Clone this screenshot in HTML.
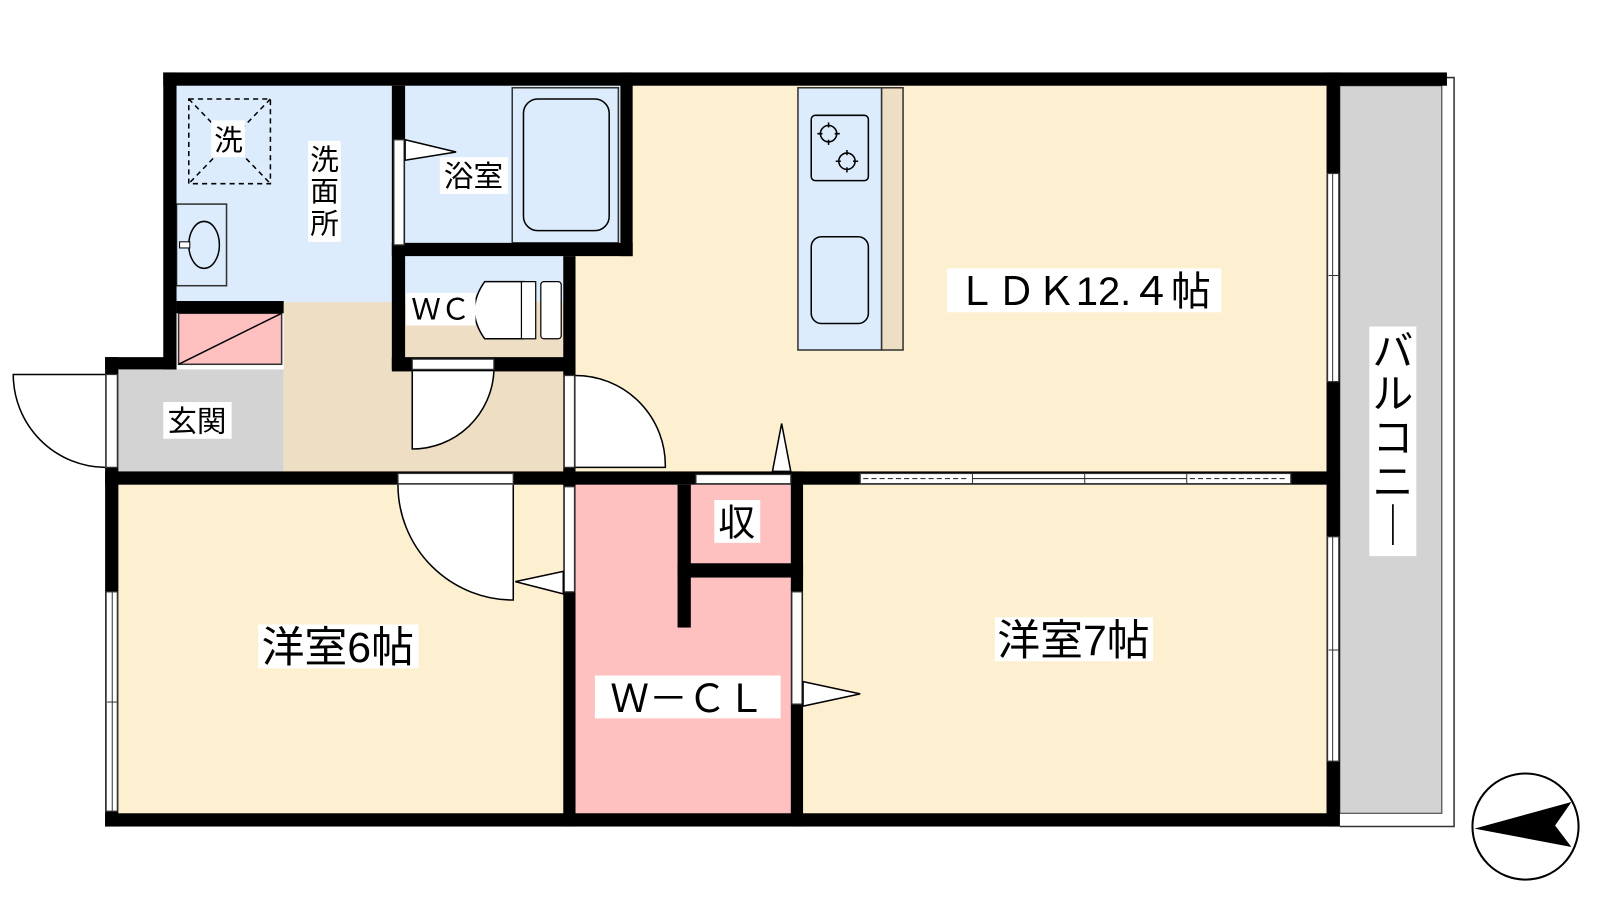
<!DOCTYPE html>
<html><head><meta charset="utf-8"><style>
html,body{margin:0;padding:0;background:#fff;width:1600px;height:900px;overflow:hidden}
svg{display:block}
text{font-family:"Liberation Sans","Noto Sans CJK JP",sans-serif;fill:#000}
</style></head><body>
<svg width="1600" height="900" viewBox="0 0 1568 882" xmlns="http://www.w3.org/2000/svg">
<rect x="552" y="84" width="750" height="380" fill="#fdf0d0"/>
<rect x="173" y="84" width="212" height="214" fill="#dcecfc"/>
<rect x="397" y="84" width="212" height="156" fill="#dcecfc"/>
<rect x="397" y="251" width="157" height="101" fill="#dcecfc"/>
<rect x="278" y="296" width="276" height="168" fill="#eedec4"/>
<rect x="116" y="362" width="162" height="102" fill="#d3d3d3"/>
<rect x="116" y="475" width="438" height="324" fill="#fdf0d0"/>
<rect x="564" y="475" width="213" height="324" fill="#ffc0c0"/>
<rect x="787" y="475" width="515" height="324" fill="#fdf0d0"/>
<rect x="1313" y="84" width="100" height="713" fill="#d3d3d3" stroke="#333" stroke-width="1"/>
<polyline points="1413,76 1425,76 1425,810 1313,810" fill="none" stroke="#333" stroke-width="1.5"/>

<rect x="185" y="97" width="80" height="83" fill="none" stroke="#000" stroke-width="1.5" stroke-dasharray="5,4"/>
<line x1="185" y1="97" x2="265" y2="180" stroke="#000" stroke-width="1.5" stroke-dasharray="5,4"/>
<line x1="265" y1="97" x2="185" y2="180" stroke="#000" stroke-width="1.5" stroke-dasharray="5,4"/>
<rect x="173" y="200" width="49" height="80" fill="#dcecfc" stroke="#333" stroke-width="1.5"/>
<ellipse cx="200" cy="240" rx="15" ry="23" fill="none" stroke="#000" stroke-width="1.5"/>
<rect x="176" y="237" width="10" height="6" fill="#fff" stroke="#000" stroke-width="1"/>
<rect x="502" y="86" width="104" height="152" fill="#dcecfc" stroke="#333" stroke-width="1.5"/>
<rect x="513" y="97" width="84" height="129" rx="14" fill="none" stroke="#000" stroke-width="1.5"/>
<path d="M514,276 L475,276 Q455,304 475,332 L514,332" fill="#fff" stroke="#000" stroke-width="1.5"/>
<rect x="511" y="276" width="14" height="56" fill="#fff" stroke="#000" stroke-width="1.2"/>
<rect x="530" y="276" width="20" height="56" rx="3" fill="#fff" stroke="#000" stroke-width="1.2"/>
<rect x="175" y="307" width="101" height="50" fill="#ffc0c0" stroke="#333" stroke-width="1.5"/>
<line x1="175" y1="357" x2="276" y2="307" stroke="#000" stroke-width="1.5"/>
<rect x="782" y="86" width="82" height="257" fill="#dcecfc" stroke="#333" stroke-width="1.5"/>
<rect x="864" y="86" width="21" height="257" fill="#eedec4" stroke="#333" stroke-width="1.5"/>
<rect x="795" y="113" width="56" height="64" rx="4" fill="none" stroke="#000" stroke-width="1.5"/>
<circle cx="812" cy="131" r="8" fill="none" stroke="#000" stroke-width="1.5"/>
<circle cx="830" cy="158" r="8" fill="none" stroke="#000" stroke-width="1.5"/>
<g stroke="#000" stroke-width="1.5">
<line x1="812" y1="120" x2="812" y2="142"/><line x1="801" y1="131" x2="823" y2="131"/>
<line x1="830" y1="147" x2="830" y2="169"/><line x1="819" y1="158" x2="841" y2="158"/>
</g>
<circle cx="812" cy="131" r="6" fill="#dcecfc"/>
<circle cx="830" cy="158" r="6" fill="#dcecfc"/>
<rect x="795" y="232" width="56" height="85" rx="10" fill="none" stroke="#000" stroke-width="1.5"/>

<g fill="#000">
<rect x="160" y="71" width="1258" height="13"/>
<rect x="160" y="71" width="13" height="291"/>
<rect x="103" y="350" width="70" height="12"/>
<rect x="103" y="350" width="13" height="460"/>
<rect x="103" y="797" width="1210" height="13"/>
<rect x="1300" y="71" width="13" height="739"/>
<rect x="384" y="84" width="13" height="278"/>
<rect x="608" y="71" width="12" height="180"/>
<rect x="384" y="238" width="236" height="13"/>
<rect x="552" y="251" width="12" height="559"/>
<rect x="384" y="350" width="180" height="14"/>
<rect x="173" y="295" width="105" height="12"/>
<rect x="103" y="462" width="1210" height="13"/>
<rect x="775" y="462" width="12" height="348"/>
<rect x="664" y="475" width="13" height="140"/>
<rect x="664" y="552" width="123" height="14"/>
</g>

<g fill="#fff" stroke="#333" stroke-width="1.2">
<rect x="386" y="137" width="10" height="103"/>
<rect x="404" y="352" width="80" height="10"/>
<rect x="104" y="367" width="11" height="91"/>
<rect x="553" y="368" width="10" height="90"/>
<rect x="390" y="464" width="113" height="10"/>
<rect x="682" y="465" width="93" height="9"/>
<rect x="843" y="464" width="422" height="10"/>
<rect x="553" y="477" width="10" height="103"/>
<rect x="776" y="580" width="10" height="110"/>
<rect x="104" y="580" width="11" height="215"/>
<rect x="1301" y="170" width="11" height="204"/>
<rect x="1301" y="526" width="11" height="220"/>
</g>
<g stroke="#333" stroke-width="1">
<line x1="110" y1="580" x2="110" y2="795"/><line x1="105" y1="688" x2="115" y2="688"/>
<line x1="1306" y1="170" x2="1306" y2="374"/><line x1="1302" y1="270" x2="1312" y2="270"/>
<line x1="1306" y1="526" x2="1306" y2="746"/><line x1="1302" y1="637" x2="1312" y2="637"/>
<line x1="953" y1="464" x2="953" y2="474"/><line x1="1063" y1="464" x2="1063" y2="474"/><line x1="1163" y1="464" x2="1163" y2="474"/>
<line x1="953" y1="469" x2="1163" y2="469"/>
<line x1="846" y1="469" x2="950" y2="469" stroke-dasharray="5,3"/>
<line x1="1166" y1="469" x2="1262" y2="469" stroke-dasharray="5,3"/>
</g>

<g fill="#fff" stroke="#000" stroke-width="1.5">
<path d="M103,367 L13,367 A91,91 0 0 0 103,458"/>
<path d="M404,364 L404,440 A80,80 0 0 0 484,364 Z" stroke="none"/>
<path d="M404,364 L404,440 A80,80 0 0 0 484,364" fill="none"/>
<path d="M564,368 A88,88 0 0 1 652,458 L564,458" />
<path d="M503,475 L503,588 A113,113 0 0 1 390,475" />
<polygon points="397,137 447,149 397,157"/>
<polygon points="757,462 766,415 775,462"/>
<polygon points="552,560 505,570 552,582"/>
<polygon points="787,668 843,680 787,692"/>
</g>

<g fill="#fff">
<rect x="207" y="118" width="33" height="36"/>
<rect x="302" y="138" width="32" height="99"/>
<rect x="431" y="154" width="67" height="36"/>
<rect x="398" y="287" width="68" height="32"/>
<rect x="160" y="394" width="67" height="36"/>
<rect x="928" y="263" width="269" height="43"/>
<rect x="1342" y="320" width="46" height="225"/>
<rect x="253" y="612" width="157" height="43"/>
<rect x="700" y="490" width="45" height="42"/>
<rect x="583" y="662" width="182" height="42"/>
<rect x="975" y="605" width="155" height="43"/>
</g>
<text x="224" y="147" font-size="28" text-anchor="middle">洗</text>
<text x="318" y="166" font-size="28" text-anchor="middle">洗</text>
<text x="318" y="197" font-size="28" text-anchor="middle">面</text>
<text x="318" y="229" font-size="28" text-anchor="middle">所</text>
<text x="464" y="183" font-size="29" text-anchor="middle">浴室</text>
<text x="432" y="313" font-size="29" text-anchor="middle">ＷＣ</text>
<text x="193" y="423" font-size="29" text-anchor="middle">玄関</text>
<text x="1062" y="299" font-size="39" text-anchor="middle">ＬＤＫ12.４帖</text>
<text x="331" y="649" font-size="42" text-anchor="middle">洋室6帖</text>
<text x="1052" y="642" font-size="42" text-anchor="middle">洋室7帖</text>
<text x="722" y="525" font-size="36" text-anchor="middle">収</text>
<text x="674" y="698" font-size="38" text-anchor="middle">Ｗ－ＣＬ</text>
<g font-size="40" text-anchor="middle">
<text x="1365" y="358">バ</text>
<text x="1365" y="400">ル</text>
<text x="1365" y="443">コ</text>
<text x="1365" y="486">ニ</text>
<text x="1365" y="529">｜</text>
</g>

<circle cx="1495" cy="810" r="52" fill="#fff" stroke="#000" stroke-width="2"/>
<polygon points="1445,812 1540,786 1524,809 1540,830" fill="#000"/>
</svg>
</body></html>
